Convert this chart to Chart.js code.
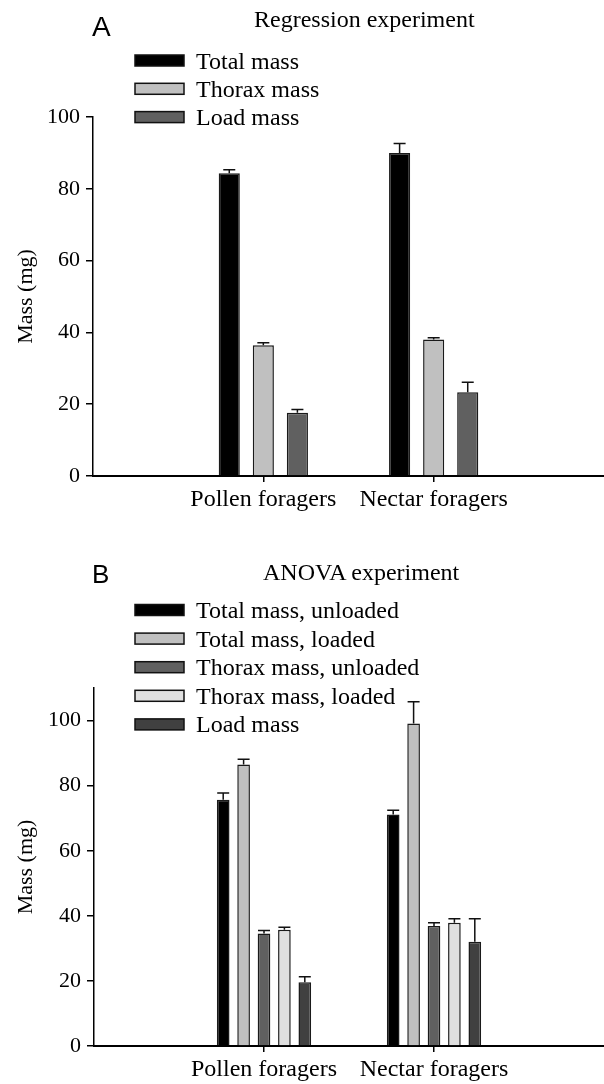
<!DOCTYPE html>
<html>
<head>
<meta charset="utf-8">
<script src="https://cdn.jsdelivr.net/npm/chart.js@4.4.1/dist/chart.umd.min.js"></script>
<style>
  body { margin: 0; background: #fff; width: 604px; height: 1084px; overflow: hidden; position: relative; font-family: "Liberation Serif", "Times New Roman", serif; color: #000; }
  .panel { position: absolute; left: 0; width: 604px; }
  .letter { position: absolute; font-family: "Liberation Sans", Arial, sans-serif; line-height: 1; }
  .title { position: absolute; font-size: 24px; line-height: 1; white-space: nowrap; }
</style>
</head>
<body>
<div class="panel" style="top:0;height:540px"><canvas id="chartA" width="604" height="540"></canvas></div>
<div class="panel" style="top:540px;height:544px"><canvas id="chartB" width="604" height="544"></canvas></div>
<div class="letter" style="left:92px;top:13px;font-size:28px">A</div>
<div class="title" style="left:254px;top:7px">Regression experiment</div>
<div class="letter" style="left:92px;top:561px;font-size:26px">B</div>
<div class="title" style="left:263px;top:560px">ANOVA experiment</div>
<script>
// categories
var categories = ['Pollen foragers', 'Nectar foragers'];

// panel A - regression experiment (mean, SE)
var seriesA = ['Total mass', 'Thorax mass', 'Load mass'];
var totalMassA = [84.3, 90.0];
var totalMassAErr = [1.0, 2.6];
var thoraxMassA = [36.4, 38.0];
var thoraxMassAErr = [0.7, 0.5];
var loadMassA = [17.6, 23.3];
var loadMassAErr = [0.9, 2.8];

// panel B - ANOVA experiment
var seriesB = ['Total mass, unloaded', 'Total mass, loaded', 'Thorax mass, unloaded', 'Thorax mass, loaded', 'Load mass'];
var totalUnloadedB = [75.7, 71.1];
var totalUnloadedBErr = [2.0, 1.3];
var totalLoadedB = [86.5, 99.1];
var totalLoadedBErr = [1.6, 6.7];
var thoraxUnloadedB = [34.6, 36.9];
var thoraxUnloadedBErr = [0.9, 1.0];
var thoraxLoadedB = [35.7, 37.9];
var thoraxLoadedBErr = [0.8, 1.2];
var loadMassB = [19.6, 32.0];
var loadMassBErr = [1.7, 7.1];

var yTicksA = [0, 20, 40, 60, 80, 100];
var yTicksB = [0, 20, 40, 60, 80, 100];

// empty slots on both ends so the axis runs past the groups
function pad(arr) { return [null].concat(arr, [null]); }
var xLabels = [''].concat(categories, ['']);

var serif = '"Liberation Serif", "Times New Roman", serif';

var errorBars = {
  id: 'errorBars',
  afterDatasetsDraw: function(chart) {
    var ctx = chart.ctx;
    var y = chart.scales.y;
    chart.data.datasets.forEach(function(ds, i) {
      var meta = chart.getDatasetMeta(i);
      meta.data.forEach(function(bar, j) {
        var v = ds.data[j];
        if (v == null) return;
        var top = y.getPixelForValue(v + ds.errors[j]);
        ctx.save();
        ctx.strokeStyle = '#111';
        ctx.lineWidth = 1.5;
        ctx.beginPath();
        ctx.moveTo(bar.x, bar.y);
        ctx.lineTo(bar.x, top);
        ctx.moveTo(bar.x - 6, top);
        ctx.lineTo(bar.x + 6, top);
        ctx.stroke();
        ctx.restore();
      });
    });
  }
};

var boxLegend = {
  id: 'boxLegend',
  afterDraw: function(chart, args, opts) {
    var ctx = chart.ctx;
    ctx.save();
    chart.data.datasets.forEach(function(ds, i) {
      var yc = opts.top + i * opts.step;
      ctx.fillStyle = ds.backgroundColor;
      ctx.fillRect(opts.left, yc - 5.5, 49, 11);
      ctx.strokeStyle = '#111';
      ctx.lineWidth = 1.5;
      ctx.strokeRect(opts.left, yc - 5.5, 49, 11);
      ctx.fillStyle = '#000';
      ctx.font = '24px ' + serif;
      ctx.textBaseline = 'alphabetic';
      ctx.fillText(ds.label, opts.left + 61, yc + 8);
    });
    ctx.restore();
  }
};

function makeSet(label, values, errors, color) {
  return {
    label: label,
    data: pad(values),
    errors: pad(errors),
    backgroundColor: color,
    borderColor: '#1a1a1a',
    borderWidth: 1.5,
    categoryPercentage: 0.6,
    barPercentage: 0.62
  };
}

function makeOptions(yMax, yTicks, leftW, padTop, xHeight, legendPos) {
  return {
    responsive: false,
    animation: false,
    layout: { padding: { top: padTop, right: 0, left: 0, bottom: 0 } },
    plugins: {
      legend: { display: false },
      tooltip: { enabled: false },
      boxLegend: legendPos
    },
    scales: {
      x: {
        type: 'category',
        offset: false,
        grid: {
          offset: false,
          drawOnChartArea: false,
          tickLength: 6,
          lineWidth: 1.5,
          color: function(c) { return (c.index === 1 || c.index === 2) ? '#000' : 'rgba(0,0,0,0)'; }
        },
        border: { color: '#000', width: 2 },
        ticks: { color: '#000', font: { family: serif, size: 24 }, padding: 3, autoSkip: false, maxRotation: 0 },
        afterFit: function(s) { s.height = xHeight; s.paddingLeft = 0; s.paddingRight = 0; }
      },
      y: {
        min: 0,
        max: yMax,
        afterBuildTicks: function(s) { s.ticks = yTicks.map(function(v) { return { value: v }; }); },
        grid: { drawOnChartArea: false, tickLength: 7, lineWidth: 1.5, color: '#000' },
        border: { color: '#000', width: 1.5 },
        ticks: { color: '#000', font: { family: serif, size: 22 }, padding: 6 },
        title: { display: true, text: 'Mass (mg)', color: '#000', font: { family: serif, size: 22 }, padding: { top: 13, bottom: 0 } },
        afterFit: function(s) { s.width = leftW; }
      }
    }
  };
}

new Chart(document.getElementById('chartA'), {
  type: 'bar',
  data: {
    labels: xLabels,
    datasets: [
      makeSet(seriesA[0], totalMassA, totalMassAErr, '#000000'),
      makeSet(seriesA[1], thoraxMassA, thoraxMassAErr, '#c0c0c0'),
      makeSet(seriesA[2], loadMassA, loadMassAErr, '#606060')
    ]
  },
  options: makeOptions(100, yTicksA, 93, 117, 64, { left: 135, top: 60.5, step: 28.3 }),
  plugins: [errorBars, boxLegend]
});

new Chart(document.getElementById('chartB'), {
  type: 'bar',
  data: {
    labels: xLabels,
    datasets: [
      makeSet(seriesB[0], totalUnloadedB, totalUnloadedBErr, '#000000'),
      makeSet(seriesB[1], totalLoadedB, totalLoadedBErr, '#c0c0c0'),
      makeSet(seriesB[2], thoraxUnloadedB, thoraxUnloadedBErr, '#606060'),
      makeSet(seriesB[3], thoraxLoadedB, thoraxLoadedBErr, '#e0e0e0'),
      makeSet(seriesB[4], loadMassB, loadMassBErr, '#404040')
    ]
  },
  options: makeOptions(110, yTicksB, 94, 148, 38, { left: 135, top: 70, step: 28.6 }),
  plugins: [errorBars, boxLegend]
});
</script>
</body>
</html>
